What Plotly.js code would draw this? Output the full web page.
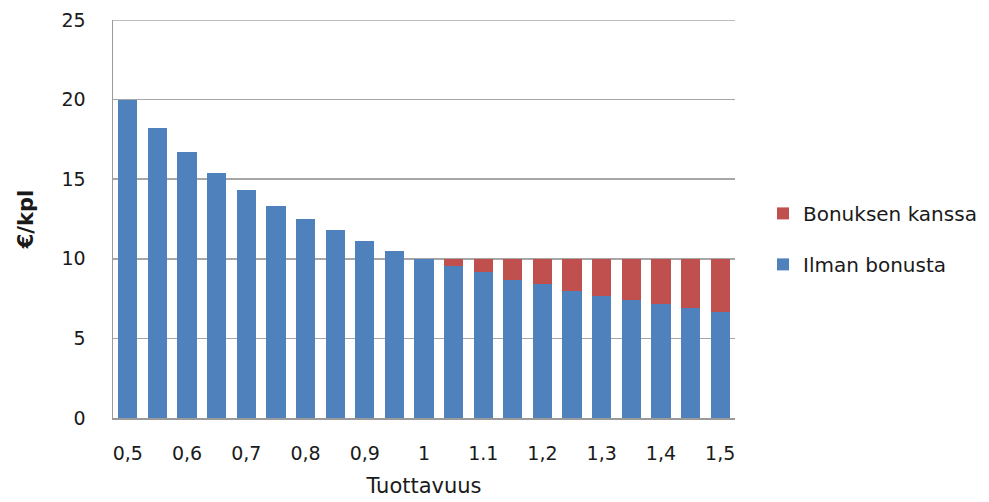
<!DOCTYPE html>
<html>
<head>
<meta charset="utf-8">
<script src="https://cdn.plot.ly/plotly-3.0.1.min.js"></script>
<style>html,body{margin:0;padding:0;background:#fff;}#chart{width:989px;height:502px;}</style>
</head>
<body>
<div id="chart"></div>
<script>
const categories = ["0,5","0,55","0,6","0,65","0,7","0,75","0,8","0,85","0,9","0,95","1","1,05","1.1","1,15","1,2","1,25","1,3","1,35","1,4","1,45","1,5"];
const ilmanBonusta = [20, 18.2, 16.7, 15.4, 14.3, 13.3, 12.5, 11.8, 11.1, 10.5, 10, 9.55, 9.15, 8.65, 8.4, 8.0, 7.65, 7.4, 7.15, 6.9, 6.65];
const bonuksenKanssa = [0, 0, 0, 0, 0, 0, 0, 0, 0, 0, 0, 0.45, 0.85, 1.35, 1.6, 2.0, 2.35, 2.6, 2.85, 3.1, 3.35];
const tickLabels = ["0,5","0,6","0,7","0,8","0,9","1","1.1","1,2","1,3","1,4","1,5"];
const tickCats = ["0,5","0,6","0,7","0,8","0,9","1","1.1","1,2","1,3","1,4","1,5"];
const yMax = 25;

const FONT = "DejaVu Sans, Verdana, sans-serif";
const TXT = '#1a1a1a';
const data = [
  {type:'bar', name:'Ilman bonusta', x:categories, y:ilmanBonusta, marker:{color:'#4F81BD'}, legendgroup:'a', legendrank:2},
  {type:'bar', name:'Bonuksen kanssa', x:categories, y:bonuksenKanssa, marker:{color:'#C0504D'}, legendgroup:'b', legendrank:1}
];
const layout = {
  width:989, height:502,
  margin:{l:113, r:254, t:20, b:84, autoexpand:false},
  barmode:'stack', bargap:0.35,
  paper_bgcolor:'#fff', plot_bgcolor:'#fff',
  font:{family:FONT, size:19, color:TXT},
  xaxis:{
    type:'category', categoryorder:'array', categoryarray:categories,
    tickvals:tickCats, ticktext:tickLabels,
    showgrid:false, showline:true, linecolor:'#9a9a9a', linewidth:2,
    ticks:'', ticklen:0, ticklabelstandoff:17,
    tickfont:{family:FONT, size:19, color:TXT},
    title:{text:'Tuottavuus', font:{family:FONT, size:21, color:TXT}, standoff:16}
  },
  yaxis:{
    range:[0,yMax], tickvals:[0,5,10,15,20,25],
    showgrid:true, gridcolor:'#a6a6a6', gridwidth:1.5,
    showline:true, linecolor:'#9a9a9a', linewidth:1.5,
    zeroline:false, ticks:'',
    tickfont:{family:FONT, size:19, color:TXT},
    ticklabelstandoff:22,
    title:{text:'<b>€/kpl</b>', font:{family:FONT, size:21, color:TXT}, standoff:22}
  },
  shapes:[{type:'line', xref:'paper', yref:'y', x0:0, x1:1, y0:yMax, y1:yMax, line:{color:'#a6a6a6', width:1.5}, layer:'below'}],
  legend:{
    x:1.045, xanchor:'left', y:0.45, yanchor:'middle',
    traceorder:'grouped', tracegroupgap:22,
    font:{family:FONT, size:20, color:TXT},
    itemwidth:30
  },
  showlegend:true
};
Plotly.newPlot('chart', data, layout, {staticPlot:true, displayModeBar:false});
</script>
</body>
</html>
